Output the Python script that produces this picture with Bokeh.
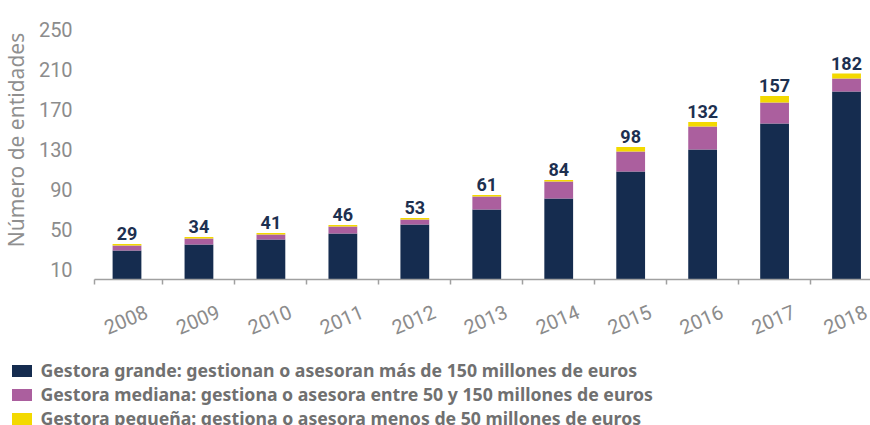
from bokeh.plotting import figure
from bokeh.models import (ColumnDataSource, Range1d, FixedTicker, Legend, LegendItem, LabelSet)
from bokeh.embed import file_html
from bokeh.resources import INLINE
from bokeh.core.properties import value

years = ["2008", "2009", "2010", "2011", "2012", "2013", "2014", "2015", "2016", "2017", "2018"]
grande = [29, 35, 40, 46, 55, 70, 81, 108, 130, 156, 188]
mediana = [5, 6, 5, 7, 5, 13, 17, 20, 23, 21, 13]
pequena = [1.5, 1.5, 1.5, 1.5, 1.5, 1.5, 1.5, 4.5, 4.5, 6.5, 5]
totales = [29, 34, 41, 46, 53, 61, 84, 98, 132, 157, 182]
y_ticks = [10, 50, 90, 130, 170, 210, 250]

series_names = [
    "Gestora grande: gestionan o asesoran más de 150 millones de euros",
    "Gestora mediana: gestiona o asesora entre 50 y 150 millones de euros",
    "Gestora pequeña: gestiona o asesora menos de 50 millones de euros",
]
colors = ["#152c4f", "#ab5f9e", "#f3d900"]

X0 = -0.45          # where the category axis starts (left edge of plotting area)
X1 = 10.333         # right edge
Y1 = 279            # top of the value axis
LABEL_SHIFT = 0.27  # rotated year labels end at their tick; shift so they centre under bars

xs = list(range(len(years)))
tops = [g + m + s for g, m, s in zip(grande, mediana, pequena)]
source = ColumnDataSource(dict(x=xs, grande=grande, mediana=mediana, pequena=pequena,
                               top=tops, lab=[str(t) for t in totales]))

# the frame covers the whole canvas; axes are drawn at fixed locations inside it
p = figure(width=870, height=425, output_backend="svg", toolbar_location=None,
           x_range=Range1d(-1.758, X1), y_range=Range1d(-146, Y1),
           min_border_left=0, min_border_right=0, min_border_top=0, min_border_bottom=0)
p.outline_line_color = None
p.grid.grid_line_color = None

renderers = p.vbar_stack(["grande", "mediana", "pequena"], x="x", width=0.4, source=source,
                         color=colors, line_color=None)

labels = LabelSet(x="x", y="top", text="lab", source=source, text_align="center",
                  text_baseline="bottom", y_offset=4, text_font=value("Roboto"),
                  text_font_style="bold", text_font_size="18px", text_color="#1d3050")
p.add_layout(labels)

# y axis
ya = p.yaxis[0]
ya.fixed_location = X0
ya.bounds = (0, Y1)
ya.ticker = FixedTicker(ticks=y_ticks)
ya.axis_line_color = None
ya.major_tick_line_color = None
ya.minor_tick_line_color = None
ya.major_label_text_font = "Roboto"
ya.major_label_text_font_size = "20px"
ya.major_label_text_color = "#8c8c8c"
ya.major_label_standoff = 16
ya.axis_label = "Número de entidades"
ya.axis_label_text_font = "Noto Sans"
ya.axis_label_text_font_style = "normal"
ya.axis_label_text_font_size = "21px"
ya.axis_label_text_color = "#8f8f8f"
ya.axis_label_standoff = 6

# x axis
xa = p.xaxis[0]
xa.fixed_location = 0
xa.bounds = (X0, X1)
label_ticks = [i + LABEL_SHIFT for i in xs]
xa.ticker = FixedTicker(ticks=label_ticks, minor_ticks=[X0] + [i + 0.5 for i in xs])
xa.major_label_overrides = {t: y for t, y in zip(label_ticks, years)}
xa.major_tick_line_color = None
xa.minor_tick_line_color = "#a0a0a0"
xa.minor_tick_line_width = 1.5
xa.minor_tick_in = 0
xa.minor_tick_out = 5
xa.axis_line_color = "#a0a0a0"
xa.axis_line_width = 1.5
xa.major_label_orientation = 0.4
xa.major_label_text_font = "Roboto"
xa.major_label_text_font_size = "20px"
xa.major_label_text_color = "#8c8c8c"
xa.major_label_standoff = 25

legend = Legend(items=[LegendItem(label=n, renderers=[r]) for n, r in zip(series_names, renderers)],
                location=(8.5, -5), orientation="vertical",
                glyph_width=25, glyph_height=15, label_standoff=7, spacing=0,
                label_height=16, padding=0, margin=0,
                label_text_font="Noto Sans", label_text_font_style="bold",
                label_text_font_size="17.7px", label_text_color="#707070",
                border_line_color=None, background_fill_alpha=0)
p.add_layout(legend, "center")

open("out.html", "w").write(file_html(p, INLINE))
